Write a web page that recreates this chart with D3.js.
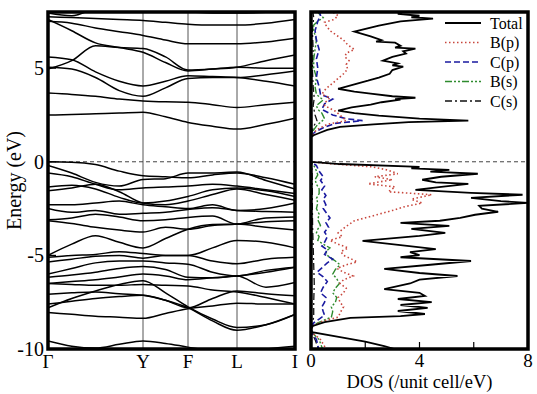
<!DOCTYPE html>
<html>
<head>
<meta charset="utf-8">
<script src="https://cdn.jsdelivr.net/npm/d3@7"></script>
<style>
  html, body { margin: 0; padding: 0; background: #fff; }
  svg { display: block; font-family: "Liberation Serif", "Times New Roman", serif; }
</style>
</head>
<body>
<svg id="chart" width="537" height="394"></svg>
<script>
// ---- k-path (band structure) ----
const kLabels = ["Γ", "Y", "F", "L", "I"];
const kTicks = [0, 95, 140, 189, 247];
const kSamples = [0, 23.75, 47.5, 71.25, 95, 117.5, 140, 164.5, 189, 218, 247];

// conduction bands, energies (eV) at each k sample
const conductionBands = [
  [2.5, 2.52, 2.56, 2.6, 2.65, 2.4, 2.1, 1.9, 1.75, 2.0, 2.33],
  [3.67, 3.6, 3.5, 3.35, 3.25, 3.2, 3.18, 3.05, 2.9, 3.05, 3.18],
  [5.05, 4.95, 4.5, 3.8, 3.5, 3.95, 4.45, 4.5, 4.5, 4.65, 4.85],
  [5.6, 5.45, 4.8, 4.3, 4.05, 4.3, 4.6, 4.55, 4.5, 4.3, 4.05],
  [4.95, 5.4, 6.2, 6.1, 6.05, 5.6, 4.9, 4.95, 5.05, 5.4, 5.7],
  [7.6, 7.0, 6.35, 6.1, 5.85, 5.3, 4.85, 4.95, 5.05, 5.0, 5.0],
  [7.5, 7.4, 7.15, 6.95, 6.75, 6.5, 6.3, 6.3, 6.3, 6.4, 6.6],
  [7.75, 7.7, 7.65, 7.6, 7.55, 7.45, 7.35, 7.3, 7.3, 7.4, 7.6],
  [7.95, 7.8, 8.2, 8.5, 8.6, 8.6, 8.5, 8.4, 8.4, 8.3, 8.2],
  [8.4, 8.4, 8.3, 8.2, 8.1, 8.05, 8.0, 7.95, 7.95, 7.98, 8.05]
];

// valence bands, energies (eV) at each k sample
const valenceBands = [
  [0.0, -0.02, -0.15, -0.5, -0.75, -0.8, -0.85, -0.7, -0.6, -0.85, -1.2],
  [-0.2, -0.6, -1.1, -1.3, -0.95, -0.9, -0.6, -0.6, -0.55, -1.0, -1.45],
  [-0.6, -0.8, -1.2, -1.5, -1.4, -1.35, -1.3, -1.2, -1.3, -1.5, -1.7],
  [-1.35, -1.25, -1.45, -1.9, -2.2, -2.1, -1.85, -1.5, -1.4, -1.55, -1.85],
  [-1.55, -1.4, -1.2, -1.6, -2.2, -2.3, -2.1, -1.75, -1.45, -1.75, -2.05],
  [-2.3, -2.3, -2.2, -2.1, -2.3, -2.4, -2.5, -2.3, -2.6, -2.5, -2.2],
  [-2.5, -2.7, -2.6, -2.8, -2.75, -2.7, -2.55, -2.45, -2.6, -2.65, -2.7],
  [-3.1, -3.0, -2.8, -2.95, -3.15, -3.1, -2.97, -2.9, -3.33, -3.2, -3.15],
  [-3.15, -3.3, -3.5, -3.65, -3.75, -3.5, -3.6, -3.4, -3.33, -3.0, -2.95],
  [-5.0, -4.4, -3.95, -4.3, -4.6, -4.1, -3.6, -3.35, -3.33, -3.5, -3.65],
  [-5.1, -5.0, -4.95, -4.8, -4.9, -5.0, -5.0, -4.6, -4.2, -4.3, -4.6],
  [-5.35, -5.2, -5.05, -5.0, -5.15, -5.0, -5.0, -5.3, -5.45, -5.2, -5.1],
  [-6.0, -5.7, -5.4, -5.3, -5.3, -5.4, -5.47, -5.9, -6.1, -5.8, -5.63],
  [-6.17, -6.05, -5.9, -5.7, -5.6, -5.75, -6.17, -6.2, -6.1, -6.7, -6.45],
  [-6.5, -6.4, -6.3, -6.15, -6.0, -6.1, -6.3, -6.2, -6.1, -5.9, -5.63],
  [-6.5, -6.55, -6.6, -6.6, -6.55, -6.6, -6.63, -6.85, -6.95, -7.25, -7.6],
  [-7.07, -7.0, -6.95, -7.05, -7.13, -7.4, -7.8, -7.3, -6.9, -7.05, -7.16],
  [-7.8, -7.3, -6.9, -6.55, -6.35, -7.0, -7.75, -8.4, -8.85, -8.7, -8.15],
  [-7.6, -7.45, -7.3, -7.2, -7.13, -7.4, -7.8, -8.5, -9.0, -8.7, -8.15],
  [-8.05, -8.15, -8.25, -8.3, -8.36, -8.1, -7.85, -7.7, -7.55, -7.6, -7.6],
  [-9.57, -9.85, -9.95, -9.75, -9.57, -9.7, -9.9, -10.1, -10.2, -10.0, -9.85]
];

// ---- density of states: [energy (eV), DOS (/unit cell/eV)] ----
const dosTotal = [
  [8.1, 3.0], [8.0, 3.4], [7.9, 3.2], [7.8, 4.0], [7.72, 3.7], [7.65, 4.5], [7.5, 3.3],
  [7.27, 2.5], [6.95, 1.6], [6.7, 2.2], [6.5, 2.6], [6.42, 2.4], [6.36, 3.1], [6.2, 3.3],
  [6.1, 3.1], [6.04, 3.85], [5.9, 3.4], [5.78, 3.5], [5.6, 3.0], [5.4, 2.65], [5.25, 3.2],
  [5.15, 3.0], [5.08, 3.4], [4.9, 3.0], [4.7, 2.9], [4.5, 2.5], [4.33, 2.1], [4.1, 1.5],
  [3.9, 1.0], [3.75, 1.6], [3.64, 2.2], [3.5, 3.0], [3.42, 3.85], [3.35, 3.1], [3.32, 3.3],
  [3.18, 2.6], [3.05, 2.2], [2.9, 1.5], [2.73, 1.0], [2.6, 1.6], [2.46, 2.5], [2.3, 4.0],
  [2.2, 5.8], [2.12, 3.6], [2.0, 2.3], [1.87, 1.07], [1.7, 0.6], [1.55, 0.33], [1.42, 0.1],
  [1.34, 0.02], [1.3, 0], [0.0, 0],
  [-0.12, 1.07], [-0.27, 4.0], [-0.35, 3.7], [-0.43, 5.1], [-0.53, 4.4], [-0.64, 6.15],
  [-0.8, 4.8], [-0.96, 4.1], [-1.1, 4.6], [-1.18, 5.8], [-1.34, 4.8], [-1.5, 3.85],
  [-1.66, 5.9], [-1.76, 7.8], [-1.93, 5.9], [-2.1, 7.0], [-2.2, 8.0], [-2.35, 6.2],
  [-2.5, 6.3], [-2.67, 6.9], [-2.83, 6.05], [-3.0, 5.5], [-3.15, 4.75], [-3.26, 3.3],
  [-3.42, 5.1], [-3.58, 3.7], [-3.8, 4.95], [-3.96, 4.0], [-4.23, 1.9], [-4.45, 3.3],
  [-4.66, 4.6], [-4.83, 3.65], [-4.99, 4.0], [-5.1, 3.3], [-5.3, 5.9], [-5.5, 4.4],
  [-5.72, 2.7], [-5.94, 4.0], [-6.1, 5.4], [-6.3, 4.0], [-6.5, 3.65], [-6.8, 2.7],
  [-7.0, 4.0], [-7.17, 4.2], [-7.33, 3.2], [-7.5, 4.45], [-7.65, 3.3], [-7.8, 4.3],
  [-7.97, 3.2], [-8.13, 4.2], [-8.24, 3.3], [-8.34, 1.45], [-8.56, 0.5], [-8.77, 0.07],
  [-8.93, 0], [-9.1, 0.04], [-9.36, 1.07], [-9.6, 2.0], [-9.84, 2.7], [-10.1, 3.3]
];

const dosBp = [
  [8.1, 0.9], [8.0, 0.8], [7.8, 1.0], [7.6, 0.85], [7.45, 0.5], [7.3, 0.55], [7.0, 0.7],
  [6.75, 0.95], [6.5, 1.2], [6.25, 1.35], [6.0, 1.6], [5.8, 1.3], [5.6, 1.25], [5.4, 1.4],
  [5.2, 1.3], [4.95, 1.35], [4.7, 1.2], [4.45, 1.0], [4.2, 0.8], [3.9, 0.55], [3.6, 0.4],
  [3.42, 0.7], [3.2, 0.55], [3.0, 0.5], [2.7, 0.9], [2.45, 1.1], [2.2, 1.3], [2.0, 0.6],
  [1.7, 0.2], [1.4, 0.03], [1.3, 0], [0.0, 0],
  [-0.1, 0.7], [-0.27, 2.25], [-0.45, 2.85], [-0.64, 3.2], [-0.8, 2.35], [-0.96, 3.0],
  [-1.18, 2.1], [-1.34, 3.1], [-1.6, 2.85], [-1.76, 4.45], [-2.0, 3.7], [-2.2, 4.1],
  [-2.4, 3.45], [-2.6, 3.0], [-2.9, 2.25], [-3.15, 1.6], [-3.5, 1.25], [-3.8, 1.0],
  [-4.0, 1.15], [-4.2, 0.7], [-4.4, 1.0], [-4.6, 1.37], [-4.8, 1.1], [-5.0, 1.2],
  [-5.2, 1.5], [-5.35, 1.7], [-5.5, 1.3], [-5.7, 0.96], [-5.9, 1.2], [-6.1, 1.55],
  [-6.3, 1.2], [-6.5, 1.07], [-6.75, 1.3], [-7.0, 1.2], [-7.25, 1.0], [-7.5, 1.07],
  [-7.75, 1.2], [-8.0, 1.1], [-8.3, 1.0], [-8.45, 0.6], [-8.6, 0.3], [-8.8, 0.05],
  [-8.95, 0], [-9.1, 0.02], [-9.5, 0.35], [-10.1, 0.6]
];

const dosCp = [
  [8.1, 0.3], [7.8, 0.35], [7.5, 0.25], [7.0, 0.15], [6.5, 0.2], [6.0, 0.3], [5.5, 0.2],
  [5.0, 0.25], [4.5, 0.2], [4.0, 0.3], [3.6, 0.35], [3.35, 0.8], [3.1, 0.5], [2.8, 0.4],
  [2.5, 0.8], [2.3, 1.3], [2.2, 1.9], [2.05, 0.9], [1.85, 0.5], [1.6, 0.15], [1.4, 0.02],
  [1.3, 0], [0.0, 0],
  [-0.2, 0.2], [-0.5, 0.3], [-0.8, 0.45], [-1.0, 0.35], [-1.3, 0.5], [-1.5, 0.4],
  [-1.8, 0.55], [-2.0, 0.45], [-2.3, 0.55], [-2.5, 0.45], [-2.8, 0.6], [-3.0, 0.7],
  [-3.25, 0.55], [-3.5, 0.65], [-3.75, 0.5], [-4.0, 0.6], [-4.3, 0.5], [-4.5, 0.4],
  [-4.7, 0.6], [-4.95, 0.5], [-5.2, 0.8], [-5.4, 0.6], [-5.6, 0.45], [-5.9, 0.22],
  [-6.15, 0.45], [-6.4, 0.6], [-6.7, 0.45], [-7.0, 0.35], [-7.25, 0.55], [-7.5, 0.5],
  [-7.75, 0.4], [-8.0, 0.45], [-8.2, 0.5], [-8.4, 0.3], [-8.6, 0.1], [-8.8, 0.03],
  [-8.95, 0], [-9.1, 0.02], [-9.5, 0.2], [-10.1, 0.3]
];

const dosBs = [
  [8.1, 0.2], [7.9, 0.3], [7.7, 0.45], [7.5, 0.25], [7.3, 0.1], [7.0, 0.1], [6.5, 0.2],
  [6.0, 0.15], [5.5, 0.1], [5.0, 0.1], [4.5, 0.2], [4.0, 0.15], [3.6, 0.2], [3.3, 0.45],
  [3.0, 0.2], [2.8, 0.25], [2.6, 0.4], [2.3, 0.5], [2.1, 0.35], [2.0, 0.25], [1.6, 0.05],
  [1.3, 0], [0.0, 0],
  [-0.3, 0.15], [-0.5, 0.2], [-0.7, 0.25], [-0.95, 0.15], [-1.2, 0.2], [-1.45, 0.3],
  [-1.7, 0.3], [-1.95, 0.2], [-2.2, 0.25], [-2.5, 0.2], [-2.8, 0.3], [-3.1, 0.25],
  [-3.4, 0.35], [-3.6, 0.25], [-3.8, 0.2], [-4.0, 0.3], [-4.2, 0.25], [-4.4, 0.45],
  [-4.6, 0.7], [-4.8, 0.55], [-5.0, 0.6], [-5.25, 0.85], [-5.5, 1.07], [-5.75, 0.9],
  [-6.0, 0.8], [-6.25, 0.95], [-6.5, 1.05], [-6.75, 0.9], [-7.0, 0.8], [-7.25, 0.95],
  [-7.5, 0.9], [-7.75, 0.75], [-8.0, 0.8], [-8.3, 0.75], [-8.45, 0.5], [-8.6, 0.25],
  [-8.8, 0.03], [-8.95, 0], [-9.1, 0.02], [-9.5, 0.3], [-10.1, 0.45]
];

const dosCs = [
  [8.1, 0.06], [7.7, 0.1], [7.0, 0.05], [6.0, 0.08], [5.0, 0.05], [4.0, 0.08], [3.4, 0.12],
  [3.0, 0.08], [2.5, 0.15], [2.2, 0.22], [1.9, 0.1], [1.5, 0.02], [1.3, 0], [0.0, 0],
  [-0.5, 0.04], [-1.5, 0.05], [-2.5, 0.05], [-3.5, 0.06], [-4.5, 0.08], [-5.5, 0.1],
  [-6.5, 0.12], [-7.5, 0.1], [-8.3, 0.1], [-8.8, 0.02], [-8.95, 0], [-9.1, 0.01],
  [-9.5, 0.15], [-10.1, 0.3]
];

// legend entries and axis ticks
const legendNames = ["Total", "B(p)", "C(p)", "B(s)", "C(s)"];
const dosTicks = [0, 2, 4, 6, 8];
const dosTickLabels = [0, 4, 8];
const energyTicks = [5, 0, -5, -10];

// ---- layout ----
const svg = d3.select("#chart");
const plotTop = 12, plotBottom = 349;
const bandL = 48, bandR = 295;
const dosL = 311, dosR = 528;

const yE = d3.scaleLinear().domain([-10, 8]).range([plotBottom, plotTop]);
const xK = d3.scaleLinear().domain([0, 247]).range([bandL, bandR]);
const xD = d3.scaleLinear().domain([0, 8]).range([dosL, dosR]);

const defs = svg.append("defs");
defs.append("clipPath").attr("id", "clipBand")
  .append("rect").attr("x", bandL).attr("y", plotTop).attr("width", bandR - bandL).attr("height", plotBottom - plotTop);
defs.append("clipPath").attr("id", "clipDos")
  .append("rect").attr("x", dosL).attr("y", plotTop).attr("width", dosR - dosL).attr("height", plotBottom - plotTop);

// ---- band structure panel ----
const bandG = svg.append("g").attr("clip-path", "url(#clipBand)");

// high-symmetry lines
bandG.selectAll(".kline").data(kTicks.slice(1, -1)).join("line")
  .attr("x1", d => xK(d)).attr("x2", d => xK(d))
  .attr("y1", plotTop).attr("y2", plotBottom)
  .attr("stroke", "#555").attr("stroke-width", 1);

// Fermi level
bandG.append("line")
  .attr("x1", bandL).attr("x2", bandR).attr("y1", yE(0)).attr("y2", yE(0))
  .attr("stroke", "#444").attr("stroke-width", 1).attr("stroke-dasharray", "4,3");

const bandLine = d3.line()
  .x((d, i) => xK(kSamples[i]))
  .y(d => yE(d))
  .curve(d3.curveMonotoneX);

bandG.selectAll(".band").data(conductionBands.concat(valenceBands)).join("path")
  .attr("d", bandLine)
  .attr("fill", "none").attr("stroke", "#000").attr("stroke-width", 1.5);

svg.append("rect").attr("x", bandL).attr("y", plotTop)
  .attr("width", bandR - bandL).attr("height", plotBottom - plotTop)
  .attr("fill", "none").attr("stroke", "#000").attr("stroke-width", 3.5);

// energy axis ticks and labels
svg.selectAll(".etick").data(energyTicks.filter(d => d > -10)).join("line")
  .attr("x1", bandL).attr("x2", bandL + 8)
  .attr("y1", d => yE(d)).attr("y2", d => yE(d))
  .attr("stroke", "#000").attr("stroke-width", 1.2);
svg.selectAll(".elab").data(energyTicks).join("text")
  .attr("x", bandL - 4).attr("y", d => yE(d) + 7)
  .attr("text-anchor", "end").attr("font-size", 20).text(d => d);

svg.append("text")
  .attr("transform", `translate(21,${(plotTop + plotBottom) / 2}) rotate(-90)`)
  .attr("text-anchor", "middle").attr("font-size", 20).text("Energy (eV)");

svg.selectAll(".klab").data(kTicks).join("text")
  .attr("x", d => xK(d)).attr("y", 368)
  .attr("text-anchor", "middle").attr("font-size", 19)
  .text((d, i) => kLabels[i]);

// ---- DOS panel ----
const dosG = svg.append("g").attr("clip-path", "url(#clipDos)");

dosG.append("line")
  .attr("x1", dosL).attr("x2", dosR).attr("y1", yE(0)).attr("y2", yE(0))
  .attr("stroke", "#444").attr("stroke-width", 1).attr("stroke-dasharray", "4,3");

const dosLine = d3.line().x(d => xD(d[1])).y(d => yE(d[0]));

const series = [
  { data: dosCs, color: "#111", dash: "7,3,2,3", width: 1.3 },
  { data: dosBs, color: "#2e8b2e", dash: "7,2,2,2,2,2", width: 1.4 },
  { data: dosCp, color: "#1a1aa0", dash: "6,3", width: 1.6 },
  { data: dosBp, color: "#c8463c", dash: "1.5,2.5", width: 1.6 },
  { data: dosTotal, color: "#000", dash: null, width: 1.8 }
];
dosG.selectAll(".dos").data(series).join("path")
  .attr("d", d => dosLine(d.data))
  .attr("fill", "none")
  .attr("stroke", d => d.color)
  .attr("stroke-width", d => d.width)
  .attr("stroke-dasharray", d => d.dash);

svg.append("rect").attr("x", dosL).attr("y", plotTop)
  .attr("width", dosR - dosL).attr("height", plotBottom - plotTop)
  .attr("fill", "none").attr("stroke", "#000").attr("stroke-width", 3.5);

svg.selectAll(".dtick").data(dosTicks.slice(1, -1)).join("line")
  .attr("x1", d => xD(d)).attr("x2", d => xD(d))
  .attr("y1", plotBottom).attr("y2", plotBottom - 7)
  .attr("stroke", "#000").attr("stroke-width", 1.2);
svg.selectAll(".dlab").data(dosTickLabels).join("text")
  .attr("x", d => xD(d)).attr("y", 367)
  .attr("text-anchor", "middle").attr("font-size", 19).text(d => d);

svg.append("text")
  .attr("x", (dosL + dosR) / 2).attr("y", 388)
  .attr("text-anchor", "middle").attr("font-size", 18.5).text("DOS (/unit cell/eV)");

// legend
const legendStyles = [series[4], series[3], series[2], series[1], series[0]];
const leg = svg.append("g");
legendNames.forEach((name, i) => {
  const yy = 23 + i * 19.5;
  const s = legendStyles[i];
  leg.append("line")
    .attr("x1", 445).attr("x2", 481).attr("y1", yy).attr("y2", yy)
    .attr("stroke", s.color).attr("stroke-width", s.width)
    .attr("stroke-dasharray", s.dash);
  leg.append("text")
    .attr("x", 490).attr("y", yy + 5.5)
    .attr("font-size", 16).text(name);
});
</script>
</body>
</html>
